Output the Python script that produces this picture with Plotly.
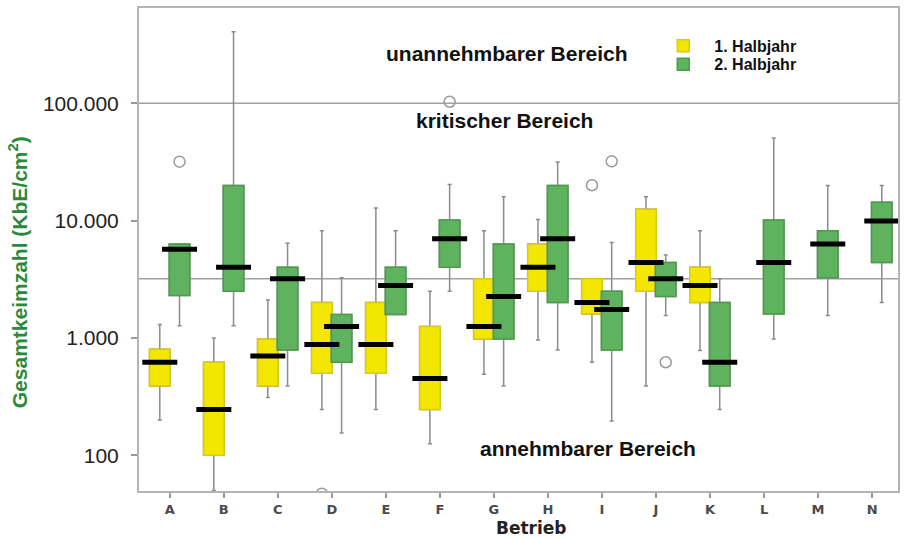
import plotly.graph_objects as go

# ---------------- data ----------------
categories = ["A", "B", "C", "D", "E", "F", "G", "H", "I", "J", "K", "L", "M", "N"]

# 1. Halbjahr (yellow) - no data for L, M, N
h1_lower = [200, 50, 310, 245, 245, 125, 490, 960, 620, 390, 780, None, None, None]
h1_q1 = [390, 100, 390, 500, 500, 245, 980, 2500, 1600, 2500, 2000, None, None, None]
h1_median = [620, 245, 700, 880, 880, 450, 1250, 4000, 2000, 4400, 2800, None, None, None]
h1_q3 = [800, 620, 980, 2000, 2000, 1250, 3200, 6300, 3200, 12500, 4000, None, None, None]
h1_upper = [1300, 1000, 2100, 8200, 12800, 2500, 8200, 10200, 3200, 16000, 8200, None, None, None]
h1_outlier_cat = ["D", "I"]
h1_outlier_val = [47, 20000]

# 2. Halbjahr (green)
h2_lower = [1270, 1270, 390, 155, 1580, 2500, 390, 790, 196, 1550, 245, 980, 1550, 2000]
h2_q1 = [2300, 2500, 790, 620, 1580, 4000, 980, 2000, 790, 2250, 390, 1600, 3250, 4400]
h2_median = [5700, 4000, 3200, 1250, 2800, 7000, 2250, 7000, 1750, 3200, 620, 4400, 6300, 9900]
h2_q3 = [6300, 19900, 4000, 1580, 4000, 10100, 6300, 19900, 2500, 4400, 2000, 10100, 8200, 14300]
h2_upper = [6300, 406000, 6400, 3250, 8200, 20300, 16000, 31500, 6500, 5100, 3200, 50500, 19900, 19900]
h2_outlier_cat = ["A", "F", "I", "J"]
h2_outlier_val = [31800, 103000, 32000, 620]

thresholds = [3200, 100000]
ytick_vals = [100, 1000, 10000, 100000]
ytick_text = ["100", "1.000", "10.000", "100.000"]

# ---------------- styling ----------------
YELLOW_FILL, YELLOW_LINE = "#f3e600", "#d9cc10"
GREEN_FILL, GREEN_LINE = "#5fb35f", "#4c9a4c"
WHISKER = "#8c8c8c"
FRAME = "#b4b4b4"
BOX_W = 0.38
OFF1, OFF2 = -0.185, 0.18
SANS = "Liberation Sans, Arial, Helvetica, sans-serif"

idx = {c: i for i, c in enumerate(categories)}
fig = go.Figure()


def add_series(name, legend_id, off, lower, q1, med, q3, upper, fill, line, out_cat, out_val):
    keep = [i for i in range(len(categories)) if med[i] is not None]
    xs = [i + off for i in keep]
    L = [lower[i] for i in keep]
    Q1 = [q1[i] for i in keep]
    M = [med[i] for i in keep]
    Q3 = [q3[i] for i in keep]
    U = [upper[i] for i in keep]
    # whiskers (gray)
    fig.add_trace(go.Box(
        x=xs, q1=Q1, median=Q1, q3=Q3, lowerfence=L, upperfence=U,
        width=BOX_W, whiskerwidth=0.2, fillcolor="rgba(0,0,0,0)",
        line=dict(color=WHISKER, width=1.5), showlegend=False, hoverinfo="skip",
        boxpoints=False))
    # coloured box
    fig.add_trace(go.Box(
        x=xs, q1=Q1, median=M, q3=Q3, lowerfence=Q1, upperfence=Q3,
        width=BOX_W, whiskerwidth=0, fillcolor=fill,
        line=dict(color=line, width=1.5), name=name, showlegend=True,
        legend=legend_id, boxpoints=False))
    # median bar
    fig.add_trace(go.Scatter(
        x=xs, y=M, mode="markers", showlegend=False, hoverinfo="skip",
        marker=dict(symbol="line-ew", size=25, color="black",
                    line=dict(color="black", width=5))))
    # outliers
    fig.add_trace(go.Scatter(
        x=[idx[c] + off for c in out_cat], y=out_val, mode="markers",
        showlegend=False, hoverinfo="skip", cliponaxis=True,
        marker=dict(symbol="circle-open", size=11, color="#9a9a9a",
                    line=dict(color="#9a9a9a", width=1.5))))


add_series("1. Halbjahr", "legend", OFF1, h1_lower, h1_q1, h1_median, h1_q3, h1_upper,
           YELLOW_FILL, YELLOW_LINE, h1_outlier_cat, h1_outlier_val)
add_series("2. Halbjahr", "legend2", OFF2, h2_lower, h2_q1, h2_median, h2_q3, h2_upper,
           GREEN_FILL, GREEN_LINE, h2_outlier_cat, h2_outlier_val)

for t in thresholds:
    fig.add_shape(type="line", xref="paper", x0=0, x1=1, yref="y", y0=t, y1=t,
                  line=dict(color="#a0a0a0", width=1.5), layer="below")

legend_common = dict(xanchor="left", yanchor="top", bgcolor="rgba(0,0,0,0)",
                     itemwidth=52,
                     font=dict(family=SANS, size=16, color="#111", weight="bold"))

fig.update_layout(
    width=906, height=540,
    margin=dict(l=139, r=7, t=6, b=49),
    paper_bgcolor="white", plot_bgcolor="white",
    boxmode="overlay",
    font=dict(family=SANS, color="#111"),
    legend=dict(x=0.6763, y=0.9567, **legend_common),
    legend2=dict(x=0.6763, y=0.9186, **legend_common),
    xaxis=dict(
        range=[-0.57, 13.48], tickmode="array",
        tickvals=list(range(len(categories))), ticktext=categories,
        ticks="outside", ticklen=5, tickcolor="#9a9a9a", tickwidth=1.5,
        showline=True, linecolor=FRAME, linewidth=2, mirror=True,
        showgrid=False, zeroline=False,
        tickfont=dict(family="DejaVu Sans", size=13, color="#4a4a4a", weight="bold")),
    yaxis=dict(
        type="log", range=[1.695, 5.812], tickmode="array",
        tickvals=ytick_vals, ticktext=ytick_text,
        ticks="outside", ticklen=6, tickcolor="#9a9a9a", tickwidth=1.5,
        ticklabelstandoff=8,
        showline=True, linecolor=FRAME, linewidth=2, mirror=True,
        showgrid=False, zeroline=False,
        tickfont=dict(family=SANS, size=21, color="#222")),
)

ann_font = dict(family=SANS, size=21, color="#111", weight="bold")
centered = dict(xref="paper", yref="paper", showarrow=False,
                xanchor="center", yanchor="middle")
fig.add_annotation(text="unannehmbarer Bereich", x=0.4855, y=0.905, font=ann_font, **centered)
fig.add_annotation(text="kritischer Bereich", x=0.4816, y=0.767, font=ann_font, **centered)
fig.add_annotation(text="annehmbarer Bereich", x=0.592, y=0.0887, font=ann_font, **centered)
fig.add_annotation(text="Betrieb", x=0.517, y=-0.0763, borderpad=0,
                   font=dict(family="DejaVu Sans", size=17, color="#222", weight="bold"),
                   **centered)
fig.add_annotation(text="Gesamtkeimzahl (KbE/cm<sup>2</sup>)", x=-0.159, y=0.4536,
                   textangle=-90,
                   font=dict(family=SANS, size=21, color="#2a8a3a", weight="bold"),
                   **centered)

fig.write_html("out.html")
